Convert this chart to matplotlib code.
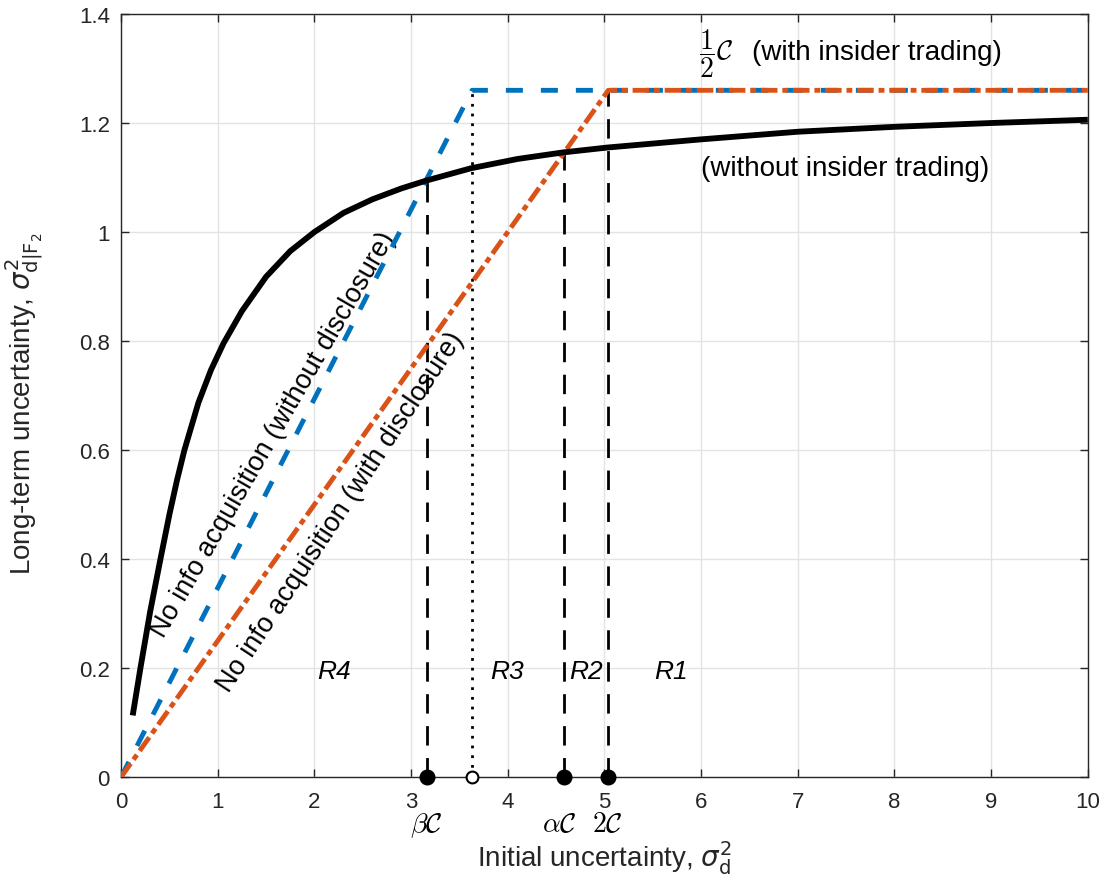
import numpy as np
import matplotlib
matplotlib.use("Agg")
import matplotlib.pyplot as plt

plt.rcParams['font.family'] = ['Liberation Sans', 'DejaVu Sans']

# black curve: long-term uncertainty without insider trading
curve_x = [0.12, 0.2, 0.3, 0.407, 0.5, 0.58, 0.655, 0.8, 0.93, 1.06, 1.25, 1.5,
           1.75, 2.0, 2.3, 2.6, 2.9, 3.15, 3.62, 4.1, 4.57, 5.03, 6.0, 7.0,
           8.0, 9.0, 10.0]
curve_y = [0.113, 0.2, 0.303, 0.4, 0.482, 0.546, 0.6, 0.687, 0.747, 0.796, 0.855,
           0.918, 0.965, 1.0, 1.035, 1.06, 1.08, 1.094, 1.117, 1.134, 1.146, 1.155,
           1.17, 1.184, 1.193, 1.2, 1.206]

# kinked lines (with insider trading)
blue_x = [0, 3.63, 10]
blue_y = [0, 1.26, 1.26]
orange_x = [0, 5.04, 10]
orange_y = [0, 1.26, 1.26]

# thresholds on the x axis
beta_c, dot_c, alpha_c, two_c = 3.16, 3.63, 4.58, 5.04
thr_top = [1.092, 1.26, 1.147, 1.26]

regions = ['R4', 'R3', 'R2', 'R1']
region_x = [2.2, 3.99, 4.81, 5.69]

fig = plt.figure(figsize=(11.01, 8.78), dpi=100)
ax = fig.add_axes([0.11, 0.1139, 0.878, 0.869])

ax.plot(curve_x, curve_y, color='k', lw=4.2, solid_capstyle='butt',
        solid_joinstyle='round', zorder=5)
ax.plot(blue_x, blue_y, color='#0072BD', lw=3.5, linestyle=(0, (3.5, 3.7)), zorder=4)
ax.plot(orange_x, orange_y, color='#D95319', lw=3.5,
        linestyle=(0, (3.4, 1.0, 1.2, 1.0)), zorder=4)

# vertical markers
for xv, top in [(beta_c, thr_top[0]), (alpha_c, thr_top[2]), (two_c, thr_top[3])]:
    ax.plot([xv, xv], [0, top], color='k', lw=2, linestyle=(0, (7, 4.5)), zorder=3)
ax.plot([dot_c, dot_c], [0, thr_top[1]], color='k', lw=2, linestyle=(0, (1, 2.5)), zorder=3)

ax.plot([beta_c, alpha_c, two_c], [0, 0, 0], 'o', color='k', ms=10.5, clip_on=False, zorder=6)
ax.plot([dot_c], [0], 'o', mfc='white', mec='k', mew=1.5, ms=8.5, clip_on=False, zorder=6)

ax.set_xlim(0, 10)
ax.set_ylim(0, 1.4)
ax.set_xticks(np.arange(0, 11, 1))
ax.set_yticks(np.arange(0, 1.41, 0.2))
ax.set_yticklabels(['0', '0.2', '0.4', '0.6', '0.8', '1', '1.2', '1.4'])
ax.grid(True, color='#e3e3e3', lw=1)
ax.set_axisbelow(True)
ax.tick_params(direction='in', top=True, right=True, labelsize=16, colors='#262626',
               length=6, width=1)
ax.tick_params(axis='x', pad=10)
ax.tick_params(axis='y', pad=8)
for sp in ax.spines.values():
    sp.set_color('#262626')
    sp.set_linewidth(1)

ax.set_xlabel(r'Initial uncertainty, $\sigma_\mathrm{d}^2$', fontsize=20, color='#262626')
ax.xaxis.set_label_coords(0.5, -0.080)
ax.set_ylabel(r'Long-term uncertainty, $\sigma^2_{\mathrm{d|F}_2}$', fontsize=20,
              color='#262626')
ax.yaxis.set_label_coords(-0.079, 0.49)

# threshold labels below axis
ax.text(beta_c, -0.087, r'$\beta\mathcal{C}$', fontsize=20, ha='center', va='center',
        math_fontfamily='cm')
ax.text(4.53, -0.087, r'$\alpha\mathcal{C}$', fontsize=20, ha='center', va='center',
        math_fontfamily='cm')
ax.text(5.03, -0.087, r'$2\mathcal{C}$', fontsize=20, ha='center', va='center',
        math_fontfamily='cm')

for name, rx in zip(regions, region_x):
    ax.text(rx, 0.195, name, fontsize=19, style='italic', ha='center', va='center')

ax.text(1.58, 0.629, 'No info acquisition (without disclosure)', fontsize=19.5,
        rotation=60, ha='center', va='center', rotation_mode='anchor')
ax.text(2.27, 0.487, 'No info acquisition (with disclosure)', fontsize=19.5,
        rotation=56.5, ha='center', va='center', rotation_mode='anchor')

ax.text(6.0, 1.118, '(without insider trading)', fontsize=20, ha='left', va='center')
ax.text(5.98, 1.33, r'$\dfrac{1}{2}\mathcal{C}$', fontsize=20, ha='left', va='center',
        math_fontfamily='cm')
ax.text(6.525, 1.33, '(with insider trading)', fontsize=20, ha='left', va='center')

fig.savefig('out.png', dpi=100)
